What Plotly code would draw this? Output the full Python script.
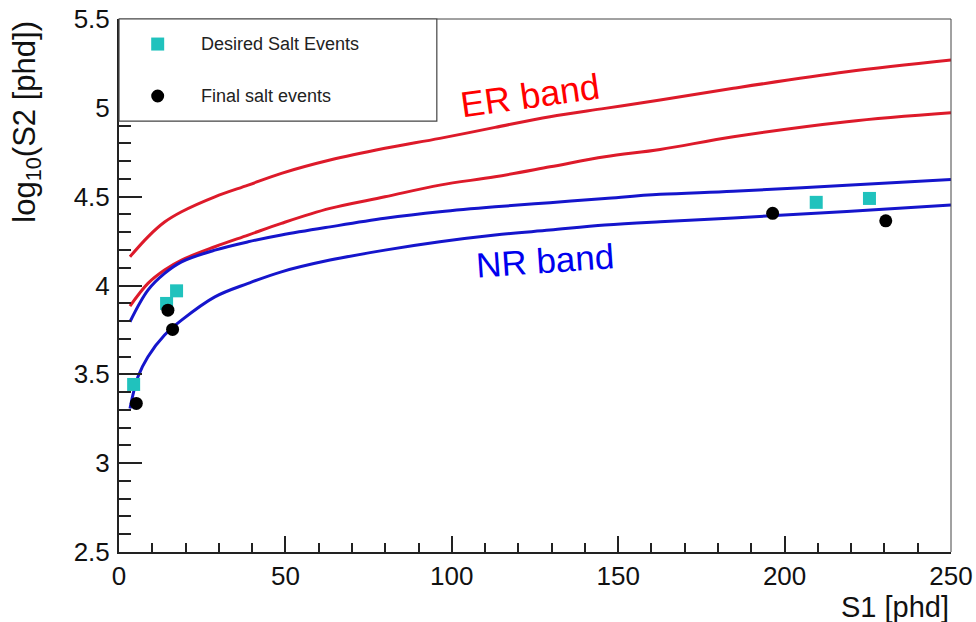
import plotly.graph_objects as go

# ---- data ----
band_x = [3.3, 8.7, 13.7, 18.8, 28.8, 38.8, 48.8, 63.4, 79.9, 96.4, 113.0, 129.5, 146.0, 162.6, 184.6, 218.7, 250.0]
er_upper = [4.162, 4.274, 4.357, 4.415, 4.499, 4.565, 4.631, 4.706, 4.772, 4.828, 4.890, 4.950, 4.997, 5.044, 5.110, 5.203, 5.269]
er_lower = [3.884, 4.012, 4.087, 4.143, 4.218, 4.284, 4.350, 4.434, 4.499, 4.565, 4.612, 4.668, 4.725, 4.766, 4.837, 4.922, 4.972]
nr_upper = [3.796, 3.974, 4.068, 4.133, 4.199, 4.246, 4.284, 4.330, 4.378, 4.415, 4.443, 4.466, 4.490, 4.513, 4.530, 4.564, 4.597]
nr_lower_x = [3.3, 5.7, 8.7, 13.7, 18.8, 28.8, 38.8, 48.8, 63.4, 79.9, 96.4, 113.0, 129.5, 146.0, 162.6, 184.6, 218.7, 250.0]
nr_lower = [3.308, 3.486, 3.599, 3.721, 3.805, 3.936, 4.012, 4.077, 4.143, 4.199, 4.246, 4.284, 4.312, 4.340, 4.359, 4.380, 4.417, 4.453]

desired_s1 = [4.4, 14.3, 17.3, 209.5, 225.5]
desired_logs2 = [3.443, 3.899, 3.970, 4.468, 4.490]

final_s1 = [5.2, 14.7, 16.1, 196.4, 230.4]
final_logs2 = [3.336, 3.861, 3.753, 4.406, 4.364]

x_tickvals = [0, 50, 100, 150, 200, 250]
x_ticktext = ["0", "50", "100", "150", "200", "250"]
y_tickvals = [2.5, 3.0, 3.5, 4.0, 4.5, 5.0, 5.5]
y_ticktext = ["2.5", "3", "3.5", "4", "4.5", "5", "5.5"]

RED = "#dd1a2a"
BLUE = "#1515cc"
CYAN = "#20c2bd"
FONT = "Liberation Sans, Arial, Helvetica, sans-serif"

fig = go.Figure()
for xs, ys, col in [(band_x, er_upper, RED), (band_x, er_lower, RED),
                    (band_x, nr_upper, BLUE), (nr_lower_x, nr_lower, BLUE)]:
    fig.add_trace(go.Scatter(x=xs, y=ys, mode="lines",
                             line=dict(color=col, width=3, shape="spline", smoothing=1.0),
                             showlegend=False, hoverinfo="skip"))

fig.add_trace(go.Scatter(x=desired_s1, y=desired_logs2, mode="markers",
                         marker=dict(symbol="square", size=13, color=CYAN),
                         name="Desired Salt Events", showlegend=False))
fig.add_trace(go.Scatter(x=final_s1, y=final_logs2, mode="markers",
                         marker=dict(symbol="circle", size=13, color="black"),
                         name="Final salt events", showlegend=False))

axis_common = dict(showgrid=False, zeroline=False, showline=True, linecolor="#222222",
                   linewidth=2, ticks="inside", tickcolor="#222222", tickwidth=1.5,
                   automargin=False,
                   tickfont=dict(family=FONT, size=26, color="#111111"))

fig.update_xaxes(range=[0, 250], tickmode="array", tickvals=x_tickvals, ticktext=x_ticktext,
                 ticklen=16, ticklabelstandoff=0,
                 minor=dict(ticks="inside", dtick=10, ticklen=9, tickcolor="#222222", tickwidth=1.5),
                 **axis_common)
fig.update_yaxes(range=[2.5, 5.5], tickmode="array", tickvals=y_tickvals, ticktext=y_ticktext,
                 ticklen=23, ticklabelstandoff=2,
                 minor=dict(ticks="inside", dtick=0.1, ticklen=12, tickcolor="#222222", tickwidth=1.5),
                 **axis_common)

shapes = [
    # top and right frame
    dict(type="line", xref="paper", yref="paper", x0=0, x1=1, y0=1, y1=1,
         line=dict(color="#444444", width=1)),
    dict(type="line", xref="paper", yref="paper", x0=1, x1=1, y0=0, y1=1,
         line=dict(color="#444444", width=1)),
    # legend box
    dict(type="rect", xref="paper", yref="paper", x0=0.0, x1=0.382, y0=0.8085, y1=1.0,
         fillcolor="white", line=dict(color="#444444", width=1.2), layer="above"),
    # legend markers
    dict(type="rect", xref="paper", yref="paper", x0=0.0465 - 0.0078, x1=0.0465 + 0.0078,
         y0=0.953 - 0.0122, y1=0.953 + 0.0122, fillcolor=CYAN, line=dict(width=0), layer="above"),
    dict(type="circle", xref="paper", yref="paper", x0=0.0465 - 0.0078, x1=0.0465 + 0.0078,
         y0=0.8555 - 0.0122, y1=0.8555 + 0.0122, fillcolor="black", line=dict(width=0), layer="above"),
]

annotations = [
    dict(text="Desired Salt Events", xref="paper", yref="paper", x=0.0961, y=0.953,
         xanchor="left", yanchor="middle", showarrow=False,
         font=dict(family=FONT, size=18, color="#222222")),
    dict(text="Final salt events", xref="paper", yref="paper", x=0.0961, y=0.8555,
         xanchor="left", yanchor="middle", showarrow=False,
         font=dict(family=FONT, size=18, color="#222222")),
    dict(text="ER band", xref="paper", yref="paper", x=0.494, y=0.857, textangle=-8,
         xanchor="center", yanchor="middle", showarrow=False,
         font=dict(family=FONT, size=36, color="#ff0000")),
    dict(text="NR band", xref="paper", yref="paper", x=0.512, y=0.546, textangle=-4,
         xanchor="center", yanchor="middle", showarrow=False,
         font=dict(family=FONT, size=35, color="#0000ee")),
    dict(text="S1 [phd]", xref="paper", yref="paper", x=1.0, y=-0.104,
         xanchor="right", yanchor="middle", showarrow=False,
         font=dict(family=FONT, size=29, color="#111111")),
    dict(text="log<sub>10</sub>(S2 [phd])", xref="paper", yref="paper", x=-0.111, y=1.0,
         xanchor="center", yanchor="top", textangle=-90, showarrow=False,
         font=dict(family=FONT, size=31, color="#111111")),
]

fig.update_layout(width=976, height=622,
                  margin=dict(l=119, r=25, t=19, b=70),
                  plot_bgcolor="white", paper_bgcolor="white",
                  shapes=shapes, annotations=annotations,
                  showlegend=False)

fig.write_html("out.html")
